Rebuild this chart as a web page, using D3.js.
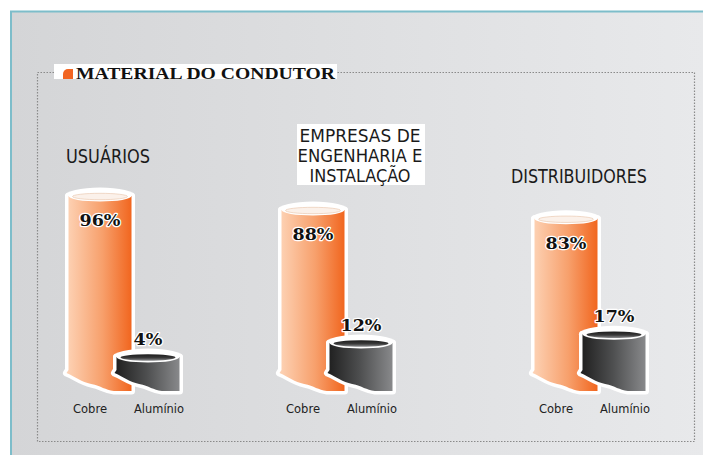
<!DOCTYPE html>
<html>
<head>
<meta charset="utf-8">
<script src="https://cdn.jsdelivr.net/npm/d3@7"></script>
<style>
  html, body { margin: 0; padding: 0; background: #fff; }
  svg { display: block; }
</style>
</head>
<body>
<svg id="chart" width="703" height="455"></svg>
<script>
// data
const groups = ["USUÁRIOS", "EMPRESAS", "DISTRIBUIDORES"];
const groupTitles = [["USUÁRIOS"], ["EMPRESAS DE", "ENGENHARIA E", "INSTALAÇÃO"], ["DISTRIBUIDORES"]];
const materials = ["Cobre", "Alumínio"];
const cobre = [96, 88, 83];
const aluminio = [4, 12, 17];
const chartTitle = "MATERIAL DO CONDUTOR";

const svg = d3.select("#chart");
const W = 703, H = 455;
const base = 391;      // bottom of the tubes
const tubeW = 63;

// scales
const x = d3.scaleOrdinal().domain(groups).range([100, 313, 566]);
const offset = d3.scaleOrdinal().domain(materials).range([0, 48]);
const y = d3.scaleLinear().domain([0, 100]).range([364, 189]);

const defs = svg.append("defs");
function hGrad(id, stops) {
    const g = defs.append("linearGradient").attr("id", id)
        .attr("x1", 0).attr("x2", 1).attr("y1", 0).attr("y2", 0);
    stops.forEach(s => g.append("stop").attr("offset", s[0]).attr("stop-color", s[1]));
}
function vGrad(id, stops) {
    const g = defs.append("linearGradient").attr("id", id)
        .attr("x1", 0).attr("x2", 0).attr("y1", 0).attr("y2", 1);
    stops.forEach(s => g.append("stop").attr("offset", s[0]).attr("stop-color", s[1]));
}
hGrad("bg", [[0, "#d4d5d7"], [1, "#e8e9eb"]]);
hGrad("orange", [[0, "#fdd3b6"], [0.55, "#f7a06c"], [1, "#f1661f"]]);
hGrad("grey", [[0, "#1e1e1e"], [0.5, "#4e4f50"], [1, "#88898b"]]);
vGrad("greyTop", [[0, "#1c1c1c"], [0.55, "#3a3a3a"], [1, "#8d8e90"]]);

// panel
svg.append("rect").attr("x", 10).attr("y", 11).attr("width", W - 10).attr("height", H - 11)
    .attr("fill", "url(#bg)");
svg.append("line").attr("x1", 10).attr("x2", W).attr("y1", 11.5).attr("y2", 11.5)
    .attr("stroke", "#7dbdca").attr("stroke-width", 2);
svg.append("line").attr("x1", 11).attr("x2", 11).attr("y1", 11).attr("y2", H)
    .attr("stroke", "#7dbdca").attr("stroke-width", 2);

// dotted frame
svg.append("rect").attr("x", 37.5).attr("y", 72.5).attr("width", 657).attr("height", 369)
    .attr("fill", "none").attr("stroke", "#8a8a8a").attr("stroke-width", 1.2)
    .attr("stroke-dasharray", "1.5,1.5");

// chart title
svg.append("rect").attr("x", 54).attr("y", 64).attr("width", 283).attr("height", 15).attr("fill", "#fff");
svg.append("path").attr("d", "M63,79 V74 A5,5 0 0 1 68,69 H73 V79 Z").attr("fill", "#f26522");
svg.append("text").attr("x", 76).attr("y", 78.5)
    .attr("font-family", "'Liberation Serif', 'Times New Roman', serif")
    .attr("font-weight", "bold").attr("font-size", 17)
    .attr("textLength", 259).attr("lengthAdjust", "spacingAndGlyphs")
    .attr("fill", "#111").text(chartTitle);

// group titles
const sansNarrow = "'Liberation Sans Narrow', 'DejaVu Sans Condensed', 'Roboto', sans-serif";
const titleLayout = [
    {x: 66, y: 163, anchor: "start", size: 20, widths: [84]},
    {x: 360, y: 182, anchor: "middle", size: 17.8, widths: [121, 125, 101]},
    {x: 511, y: 183, anchor: "start", size: 20, widths: [136]}
];
svg.append("rect").attr("x", 297).attr("y", 124).attr("width", 128).attr("height", 61).attr("fill", "#fff");
groupTitles.forEach((lines, i) => {
    const L = titleLayout[i];
    lines.forEach((line, j) => {
        svg.append("text")
            .attr("x", L.x)
            .attr("y", L.y - (lines.length - 1 - j) * 20)
            .attr("text-anchor", L.anchor)
            .attr("font-family", sansNarrow).attr("font-size", L.size)
            .attr("textLength", L.widths[j]).attr("lengthAdjust", "spacingAndGlyphs")
            .attr("fill", "#1a1a1a").text(line);
    });
});

// tube outline path
function tubePath(cx, top) {
    const x0 = cx - tubeW / 2, x1 = cx + tubeW / 2, w = tubeW;
    return `M${x0},${top} V${base - 21} l-2,3 ` +
        `C${x0 + 0.12 * w},${base - 14} ${x0 + 0.2 * w},${base - 9} ${x0 + 0.36 * w},${base - 7} ` +
        `C${x0 + 0.52 * w},${base - 5} ${x0 + 0.58 * w},${base - 1} ${x0 + 0.72 * w},${base} ` +
        `L${x1},${base} V${top} Z`;
}

const rows = groups.map((g, i) => [
    {group: g, material: "Cobre", value: cobre[i]},
    {group: g, material: "Alumínio", value: aluminio[i]}
]);

rows.forEach(row => {
    const gg = svg.append("g");
    row.forEach(d => {
        const cx = x(d.group) + offset(d.material);
        const top = y(d.value);
        const isCu = d.material === "Cobre";
        const t = gg.append("g");
        // white halo
        t.append("path").attr("d", tubePath(cx, top))
            .attr("fill", "#fff").attr("stroke", "#fff").attr("stroke-width", 7)
            .attr("stroke-linejoin", "round");
        t.append("ellipse").attr("cx", cx).attr("cy", top)
            .attr("rx", tubeW / 2 + 3.5).attr("ry", 8.5).attr("fill", "#fff");
        // body
        t.append("path").attr("d", tubePath(cx, top))
            .attr("fill", isCu ? "url(#orange)" : "url(#grey)");
        // rim
        t.append("ellipse").attr("cx", cx).attr("cy", top)
            .attr("rx", tubeW / 2).attr("ry", 5.5).attr("fill", "#fff");
        t.append("ellipse").attr("cx", cx).attr("cy", top + 0.5)
            .attr("rx", tubeW / 2 - 4).attr("ry", 3.2)
            .attr("fill", isCu ? "#fbf1ea" : "url(#greyTop)")
            .attr("stroke", isCu ? "#e8c2a8" : "none").attr("stroke-width", 0.6);

        // value label
        svg.append("text")
            .datum(d)
            .attr("x", cx)
            .attr("y", isCu ? top + 30 : top - 12)
            .attr("text-anchor", "middle")
            .attr("font-family", "'DejaVu Serif', serif").attr("font-weight", "bold")
            .attr("font-size", 17.5)
            .attr("fill", "#111").attr("stroke", "#fff").attr("stroke-width", 2.5)
            .attr("paint-order", "stroke").attr("stroke-linejoin", "round")
            .text(d.value + "%");

        // category label
        svg.append("text")
            .attr("x", cx + (isCu ? -10 : 11))
            .attr("y", 413)
            .attr("text-anchor", "middle")
            .attr("font-family", sansNarrow).attr("font-size", 13)
            .attr("textLength", isCu ? 34 : 50).attr("lengthAdjust", "spacingAndGlyphs")
            .attr("fill", "#222").text(d.material);
    });
});
</script>
</body>
</html>
